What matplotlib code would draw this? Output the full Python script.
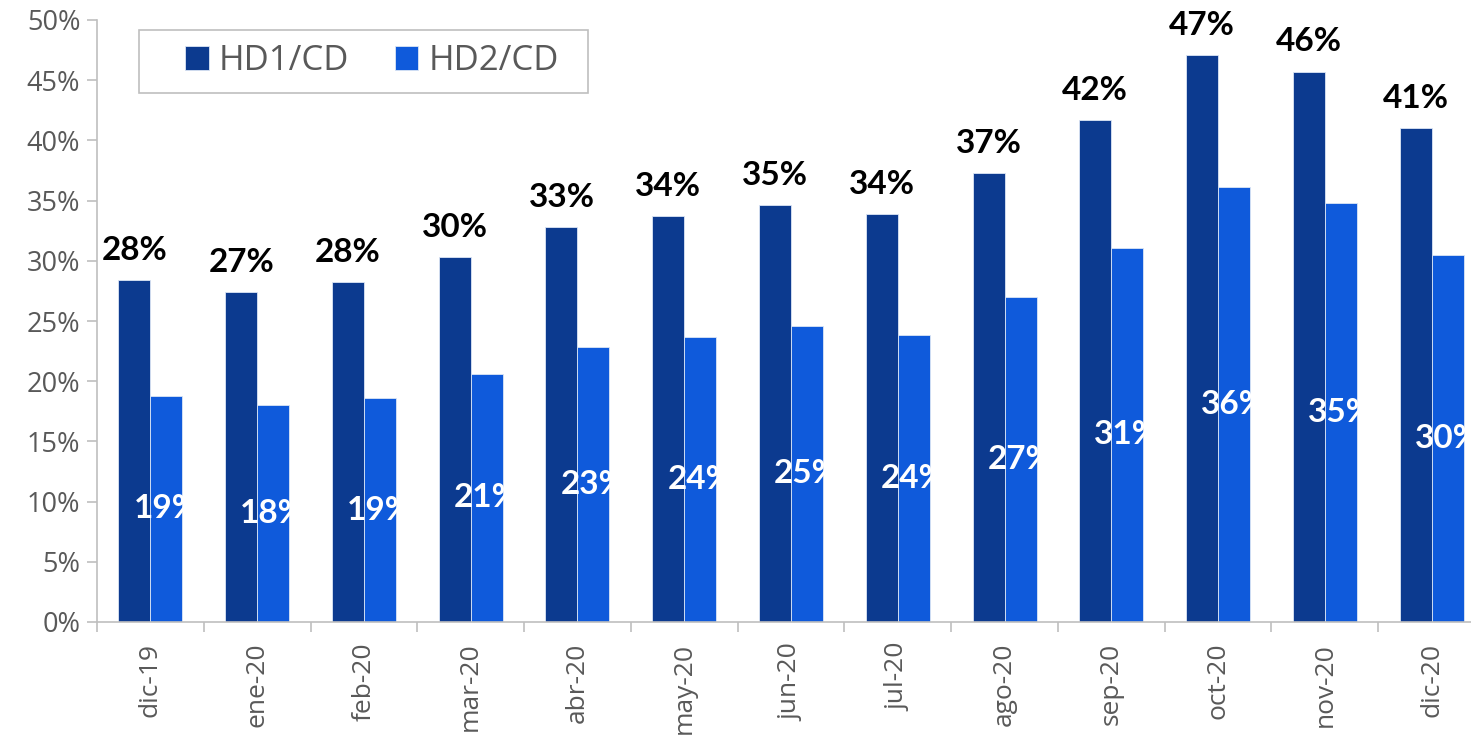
import numpy as np
import matplotlib.pyplot as plt
from matplotlib.patches import Rectangle

# --- Data ---
months = ['dic-19', 'ene-20', 'feb-20', 'mar-20', 'abr-20', 'may-20', 'jun-20',
          'jul-20', 'ago-20', 'sep-20', 'oct-20', 'nov-20', 'dic-20']
hd1 = [28.4, 27.4, 28.2, 30.3, 32.8, 33.7, 34.6, 33.9, 37.3, 41.7, 47.1, 45.7, 41.0]
hd2 = [18.8, 18.0, 18.6, 20.6, 22.8, 23.7, 24.6, 23.8, 27.0, 31.1, 36.1, 34.8, 30.5]

c_hd1 = '#0C3A8F'
c_hd2 = '#0F5ADB'
gray = '#BFBFBF'
txt_gray = '#595959'

fig = plt.figure(figsize=(14.71, 7.38), dpi=100)
ax = fig.add_axes([97 / 1471, 116 / 738, 1388 / 1471, 602 / 738])

x = np.arange(len(months))
w = 0.3
b1 = ax.bar(x - w / 2, hd1, w, color=c_hd1, label='HD1/CD', edgecolor='#DCE6F5', linewidth=0.6)
b2 = ax.bar(x + w / 2, hd2, w, color=c_hd2, label='HD2/CD', edgecolor='#DCE6F5', linewidth=0.6)

# data labels
for xi, v in zip(x, hd1):
    ax.annotate(f'{round(v):.0f}%', (xi - w / 2, v), xytext=(0, 11), textcoords='offset points',
                ha='center', va='bottom', fontsize=24, fontweight='bold', family='Lato',
                color='black')
for xi, v in zip(x, hd2):
    ax.text(xi + w / 2, v / 2, f'{round(v):.0f}%', ha='center', va='center',
            fontsize=24, fontweight='bold', family='Lato', color='white')

ax.set_xlim(-0.5, len(months) - 0.5)
ax.set_ylim(0, 50)
ax.set_yticks(np.arange(0, 51, 5))
ax.set_yticklabels([f'{t}%' for t in range(0, 51, 5)], fontsize=19.5, color=txt_gray, family='Open Sans')
ax.set_xticks(x)
ax.set_xticklabels(months, rotation=90, fontsize=19, color=txt_gray, family='Open Sans')
ax.set_xticks(np.arange(-0.5, len(months), 1), minor=True)
ax.tick_params(axis='x', which='major', length=0, pad=15)
ax.tick_params(axis='x', which='minor', length=7, color=gray, width=1.2)
ax.tick_params(axis='y', length=7, color=gray, width=1.2, pad=5)

for s in ['top', 'right']:
    ax.spines[s].set_visible(False)
for s in ['left', 'bottom']:
    ax.spines[s].set_color(gray)
    ax.spines[s].set_linewidth(1.2)

# legend (frame drawn separately to get the wide padding)
leg = fig.legend(handles=[b1, b2], loc='center left', bbox_to_anchor=(185 / 1471, 1 - 61.5 / 738),
                 ncol=2, prop={'family': 'Open Sans', 'size': 25}, frameon=False,
                 handlelength=0.68, handleheight=0.68, handletextpad=0.3, columnspacing=1.3,
                 borderpad=0, borderaxespad=0)
for t in leg.get_texts():
    t.set_color(txt_gray)
fig.patches.append(Rectangle((139 / 1471, 1 - 93 / 738), 449 / 1471, 63 / 738,
                             transform=fig.transFigure, fill=False, edgecolor=gray, linewidth=1.2))

fig.savefig('out.png', dpi=100)
